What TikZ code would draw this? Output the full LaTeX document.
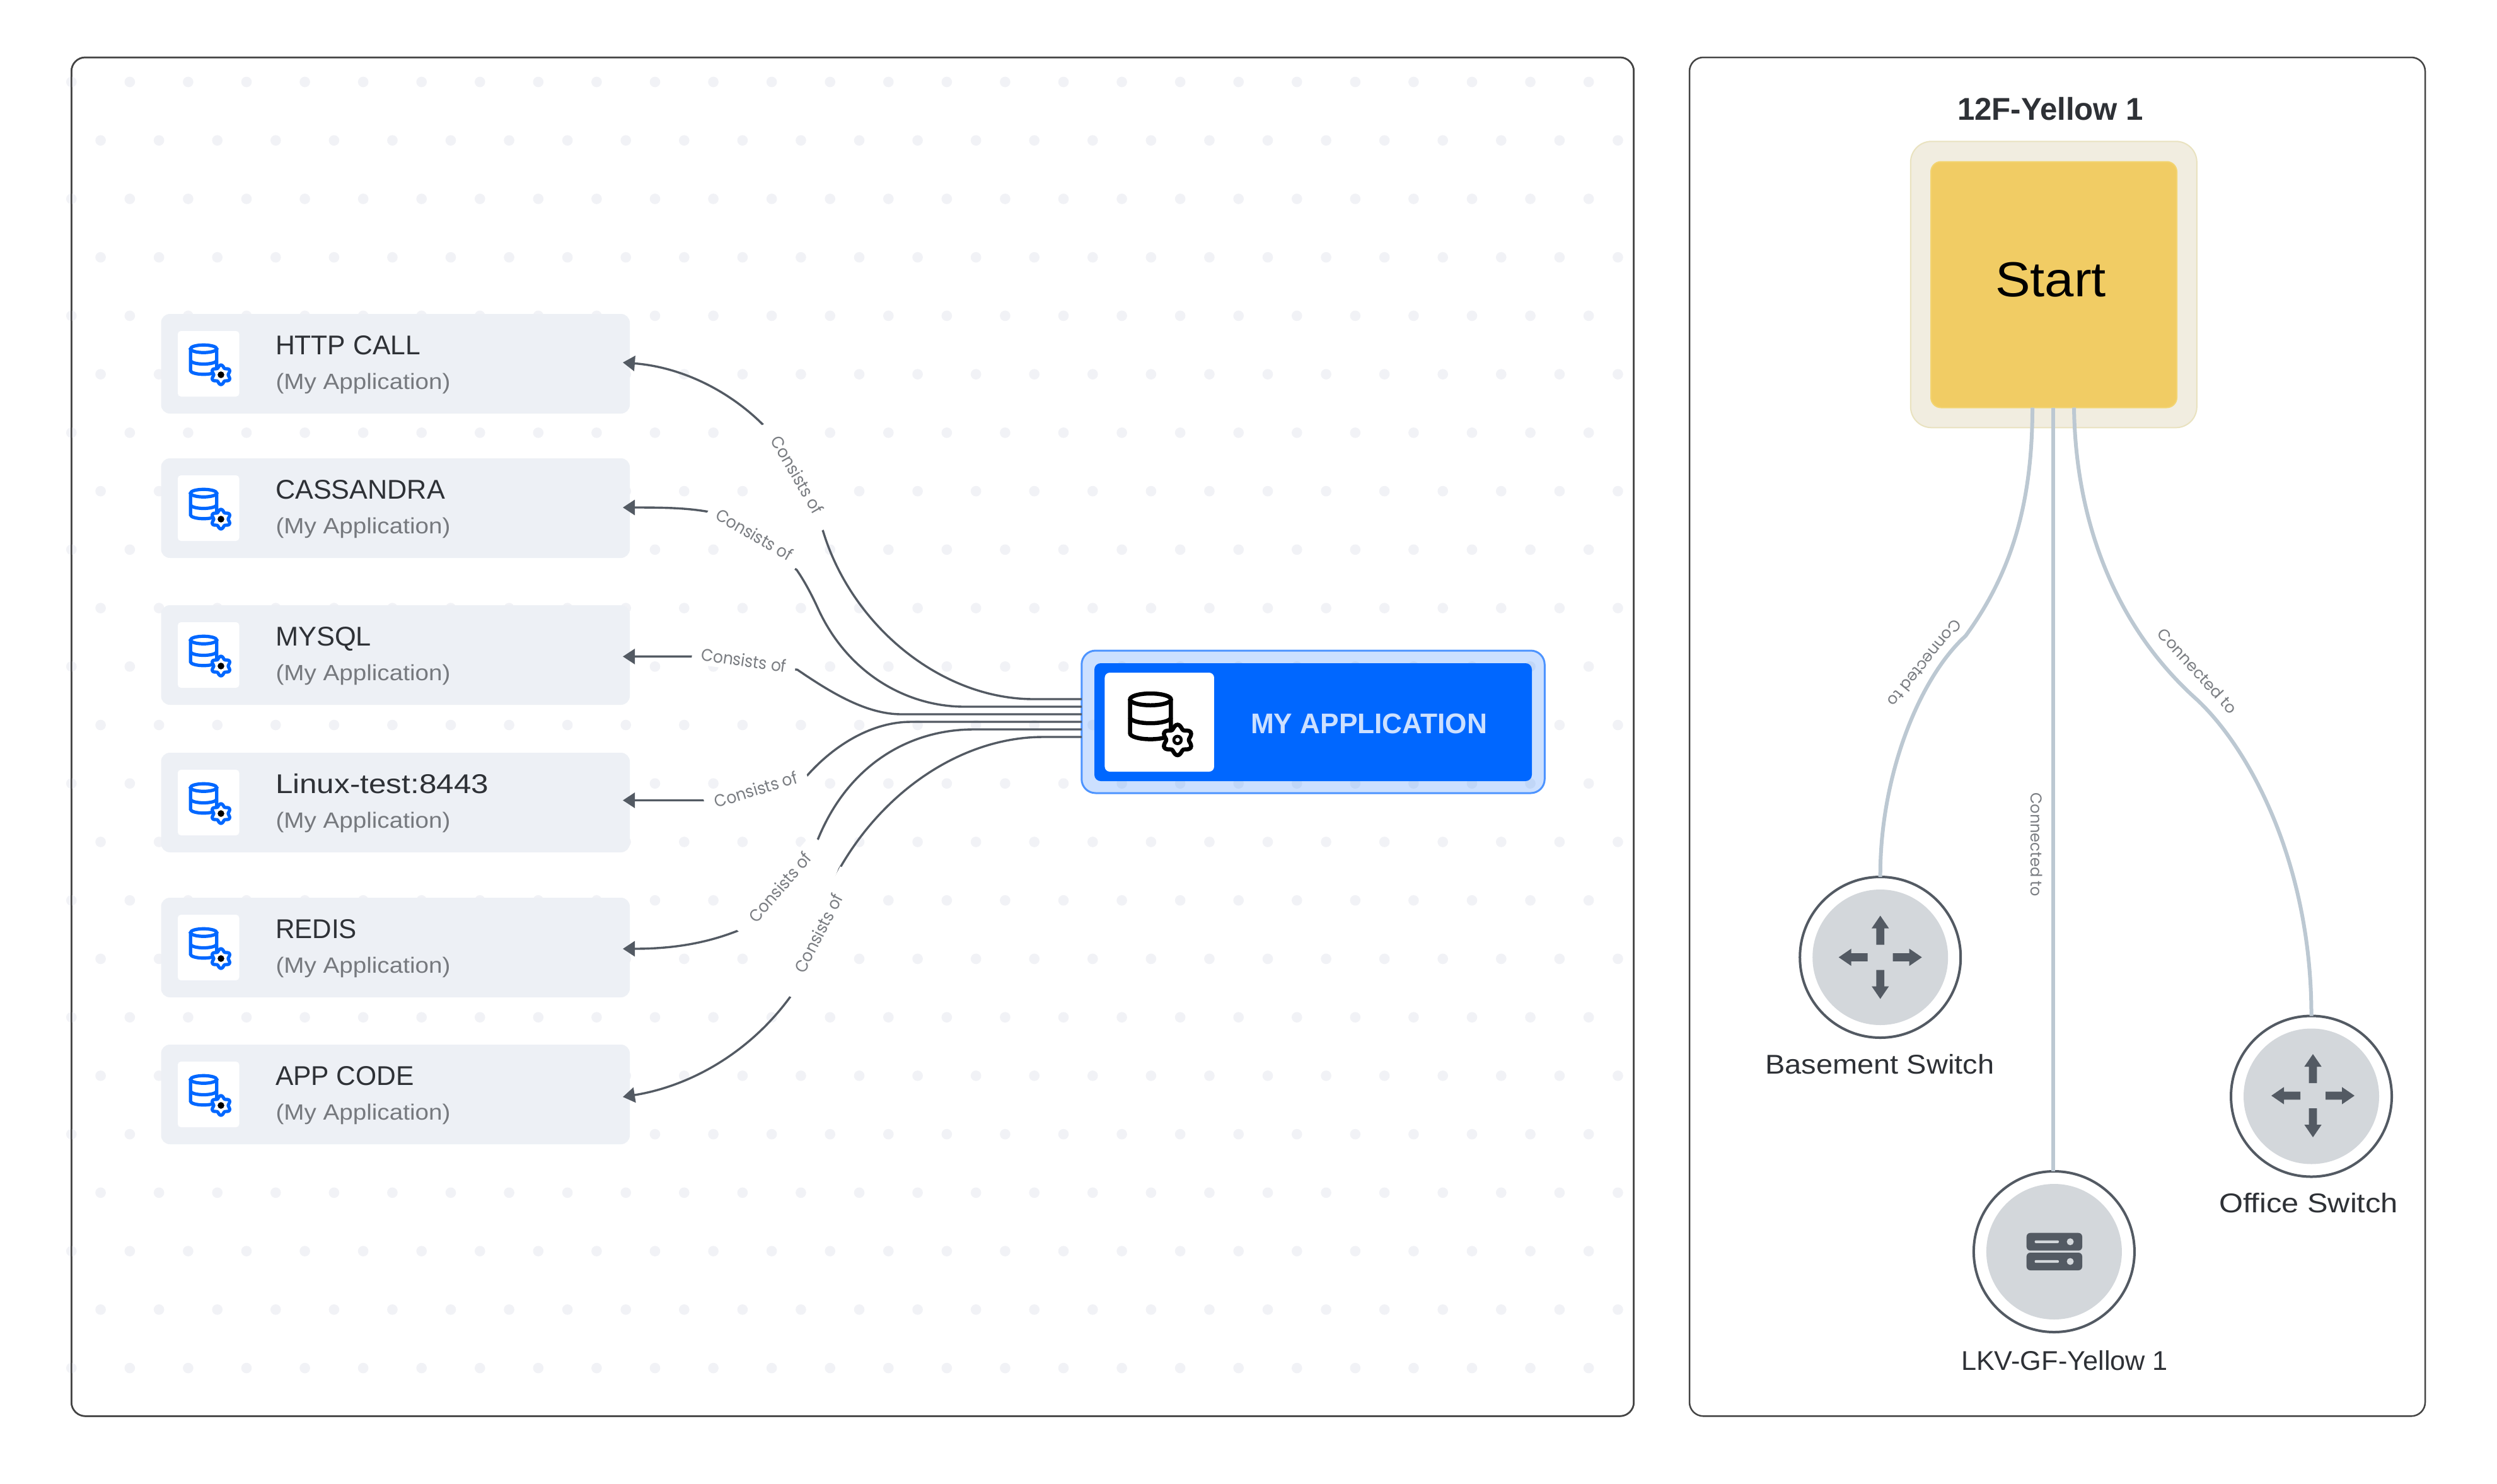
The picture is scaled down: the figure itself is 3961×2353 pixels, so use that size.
\documentclass[tikz,border=0pt]{standalone}
\usepackage{fontspec}
\usepackage{graphicx}
\setmainfont{Liberation Sans}
\newfontfamily\lblfont{Poppins}
\usetikzlibrary{arrows.meta}
\definecolor{paneledge}{HTML}{444444}
\definecolor{dotc}{HTML}{F1F2F6}
\definecolor{cardfill}{HTML}{EDF0F5}
\definecolor{iconblue}{HTML}{0067FF}
\definecolor{wire}{HTML}{535A63}
\definecolor{halo}{HTML}{CCE0FF}
\definecolor{haloedge}{HTML}{4D94FF}
\definecolor{titletext}{HTML}{2E3136}
\definecolor{subtext}{HTML}{76797E}
\definecolor{lbltext}{HTML}{7A7D82}
\definecolor{creamfill}{HTML}{F1EDE0}
\definecolor{creamedge}{HTML}{E9E2BF}
\definecolor{startfill}{HTML}{F1CC64}
\definecolor{startedge}{HTML}{F3D470}
\definecolor{linkc}{HTML}{BCC8D2}
\definecolor{discfill}{HTML}{D3D7DB}
\newcommand\fitw[2]{\resizebox{#1pt}{\height}{#2}}
\tikzset{
  x=1pt,y=-1pt,
  every node/.style={inner sep=0pt,outer sep=0pt},
  panelbox/.style={draw=paneledge,line width=2.5pt,rounded corners=22pt,fill=white},
  card/.style={fill=cardfill,rounded corners=14pt,minimum width=743.5pt,minimum height=158pt},
  tile/.style={fill=white,rounded corners=5pt,minimum width=97.5pt,minimum height=104pt},
  cardtitle/.style={anchor=base west,text=titletext,font=\fontsize{43}{50}\selectfont},
  cardsub/.style={anchor=base west,text=subtext,font=\fontsize{35}{42}\selectfont},
  conn/.style={draw=wire,line width=3.4pt,-{Triangle[length=19pt,width=24pt]}},
  link/.style={draw=linkc,line width=6pt},
  edgelbl/.style={fill=white,text=lbltext,font=\lblfont\fontsize{27}{32}\selectfont,minimum height=34pt},
  linklbl/.style={text=lbltext,font=\lblfont\fontsize{25}{30}\selectfont},
  ringnode/.style={circle,draw=wire,line width=4pt,fill=white,minimum size=255pt},
  discnode/.style={circle,fill=discfill,minimum size=215pt},
  devname/.style={anchor=base,text=titletext,font=\fontsize{43}{50}\selectfont},
  pics/dbicon/.style 2 args={code={
    \draw[#1] (0,-17.25) ellipse [x radius=20.8pt,y radius=6pt];
    \draw[#1] (-20.8,-17.25) -- (-20.8,17.25) arc[start angle=180,end angle=360,x radius=20.8pt,y radius=6pt] -- (20.8,-17.25);
    \draw[#1] (-20.8,1) arc[start angle=180,end angle=360,x radius=20.8pt,y radius=6pt];
    \draw[#1,fill=white] plot[domain=0:360,samples=73,smooth] ({27.5+(13.5-2*cos(6*\x))*cos(\x)},{24+(13.5-2*cos(6*\x))*sin(\x)}) -- cycle;
    \fill[black] (27.5,24) circle [radius=5.3pt];
    \fill[#2] (27.5,24) circle [radius=2.2pt];
  }},
  pics/switcharrows/.style={code={
    \foreach \a in {0,90,180,270}
      \fill[wire,rotate=\a] (20,-6.3) -- (46,-6.3) -- (46,-13.7) -- (66,0) -- (46,13.7) -- (46,6.3) -- (20,6.3) -- cycle;
  }},
}
\newcommand\cardnode[4]{%
  \node[card] (#1) at (627.25,{#2+79}) {};
  \node[tile] (#1tile) at (330.75,{#2+79}) {};
  \pic[line width=5.2pt] at (323,{#2+72.5}) {dbicon={iconblue}{black}};
  \node[cardtitle] (#1title) at (437,{#2+64.5}) {\fitw{#4}{#3}};
  \node[cardsub] (#1sub) at (437.5,{#2+119.7}) {\fitw{277}{(My Application)}};
}
\begin{document}
\begin{tikzpicture}
\useasboundingbox (0,0) rectangle (3961,2353);
\fill[white] (0,0) rectangle (3961,2353);
% panels
\node[panelbox,minimum width=2478.4pt,minimum height=2155.3pt] (leftpanel) at (1352.5,1168.65) {};
\node[panelbox,minimum width=1167pt,minimum height=2155.3pt] (rightpanel) at (3263.5,1168.65) {};
% dot grid
\foreach \k in {0,2,...,22}
  \foreach \m in {0,...,26}
    \fill[dotc] ({113.3+92.57*\m},{130+92.73*\k}) circle [radius=8.3pt];
\foreach \k in {1,3,...,21}
  \foreach \m in {0,...,26}
    \fill[dotc] ({159.6+92.57*\m},{130+92.73*\k}) circle [radius=8.3pt];
\draw[paneledge,line width=2.5pt,rounded corners=22pt] (113.3,91) rectangle (2591.7,2246.3);
% cards
\cardnode{http}{498}{HTTP CALL}{230}
\cardnode{cass}{727}{CASSANDRA}{269}
\cardnode{mysql}{960}{MYSQL}{152}
\cardnode{linux}{1194}{Linux-test:8443}{338}
\cardnode{redis}{1424}{REDIS}{129}
\cardnode{appcode}{1657}{APP CODE}{220}
% application node
\node[fill=iconblue,fill opacity=.2,draw=haloedge,draw opacity=1,line width=3pt,rounded corners=22pt,minimum width=734.5pt,minimum height=226pt] (app) at (2083,1145) {};
\node[fill=iconblue,rounded corners=10pt,minimum width=694pt,minimum height=187pt] (appinner) at (2083,1145.5) {};
\node[fill=white,rounded corners=8pt,minimum width=173.5pt,minimum height=157pt] (apptile) at (1839.2,1145.5) {};
\pic[scale=1.56,line width=6.5pt] at (1825,1136.3) {dbicon={black}{white}};
\node[anchor=base west,text=halo,font=\bfseries\fontsize{45}{52}\selectfont] (apptext) at (1984,1163.5) {\fitw{375}{MY APPLICATION}};
% connectors
\coordinate (m1) at (1261,759);
\coordinate (m2) at (1193.6,858);
\coordinate (m3) at (1181,1052);
\coordinate (m4) at (1197,1250);
\coordinate (m5) at (1233,1404);
\coordinate (m6) at (1292,1481);
\draw[conn] ([shift={(0,-36)}]app.west) -- (1640,1109) .. controls (1490,1109) and (1350,990) .. (1305.6,842.4) -- (m1) -- (1222,686) .. controls (1170,628) and (1090,583) .. ([shift={(-11,-2)}]http.east);
\draw[conn] ([shift={(0,-24)}]app.west) -- (1530,1121) .. controls (1440,1121) and (1345,1070) .. (1297,964) .. controls (1287,942) and (1275,920) .. (1263.8,904) -- (m2) -- (1130,813) .. controls (1095,806) and (1060,805) .. ([shift={(-11,-1)}]cass.east);
\draw[conn] ([shift={(0,-12)}]app.west) -- (1430,1133) .. controls (1375,1133) and (1320,1100) .. (1264.8,1062.3) -- (m3) -- (1110,1041.4) -- ([shift={(-11,2.4)}]mysql.east);
\draw[conn] (app.west) -- (1445,1145) .. controls (1385,1145) and (1325,1180) .. (1280.6,1230) -- (m4) -- (1125,1269.5) -- ([shift={(-11,-3.5)}]linux.east);
\draw[conn] ([shift={(0,12)}]app.west) -- (1545,1157) .. controls (1440,1157) and (1345,1215) .. (1297.7,1330.7) -- (m5) -- (1175,1474.5) .. controls (1120,1497) and (1065,1505) .. ([shift={(-11,2)}]redis.east);
\draw[conn] ([shift={(0,24)}]app.west) -- (1655,1169) .. controls (1530,1169) and (1405,1250) .. (1331.7,1378) -- (m6) -- (1258,1575) .. controls (1195,1665) and (1100,1722) .. ([shift={(-11,4)}]appcode.east);
% connector labels
\node[edgelbl,minimum width=192pt,rotate=-60] (l1) at (1265,753) {\fitw{138}{Consists of}};
\node[edgelbl,minimum width=165pt,rotate=-30] (l2) at (1197,848) {\fitw{136}{Consists of}};
\node[edgelbl,minimum width=165pt,rotate=-8] (l3) at (1180,1047) {\fitw{136}{Consists of}};
\node[edgelbl,minimum width=168pt,rotate=17] (l4) at (1199,1252) {\fitw{136}{Consists of}};
\node[edgelbl,minimum width=192pt,rotate=49] (l5) at (1237,1407) {\fitw{136}{Consists of}};
\node[edgelbl,minimum width=220pt,rotate=63] (l6) at (1298,1480) {\fitw{136}{Consists of}};
% right panel
\node[anchor=base,text=titletext,font=\bfseries\fontsize{50}{58}\selectfont] (floorname) at (3252.5,190.7) {\fitw{295}{12F-Yellow 1}};
\node[fill=creamfill,draw=creamedge,line width=2pt,rounded corners=33pt,minimum width=454pt,minimum height=454pt] (outer) at (3257.8,451.3) {};
\node[fill=startfill,draw=startedge,line width=2pt,rounded corners=16pt,minimum width=390pt,minimum height=390pt] (start) at (3258,451.5) {};
\node[anchor=base,text=black,font=\fontsize{78}{90}\selectfont] (starttext) at (3253,470) {\fitw{176}{Start}};
\node[ringnode] (basement) at (2982.7,1518.5) {};
\node[ringnode] (lkv) at (3258.4,1985.5) {};
\node[ringnode] (office) at (3666.5,1739) {};
\draw[link] ([xshift=-34pt]start.south) .. controls (3224,800) and (3190,910) .. (3118,1008.7) .. controls (3045,1075) and (2982,1230) .. (basement.north);
\draw[link] ([xshift=-1pt]start.south) -- (lkv.north -| 3257,0);
\draw[link] ([xshift=32pt]start.south) .. controls (3292,810) and (3345,985) .. (3486,1110.7) .. controls (3575,1195) and (3667,1380) .. (office.north);
\node[linklbl,rotate=231] (t1) at (3053.5,1052) {\fitw{170}{Connected to}};
\node[linklbl,rotate=-90] (t2) at (3230.7,1339.5) {\fitw{165}{Connected to}};
\node[linklbl,rotate=-47.5] (t3) at (3486,1064) {\fitw{173}{Connected to}};
\node[discnode] (basementdisc) at (basement) {};
\node[discnode] (lkvdisc) at (lkv) {};
\node[discnode] (officedisc) at (office) {};
\pic at (basement) {switcharrows};
\pic at (3669,1738) {switcharrows};
% server glyph
\fill[wire,rounded corners=6pt] (3214.7,1955.7) rectangle (3303,1983.7);
\fill[wire,rounded corners=6pt] (3214.7,1987) rectangle (3303,2015);
\foreach \y in {1969.7,2001}{
  \fill[discfill,rounded corners=2pt] (3227.5,{\y-2.2}) rectangle (3266,{\y+2.2});
  \fill[discfill] (3284,\y) circle [radius=5.5pt];
}
\node[devname] (basementname) at (2981.7,1703) {\fitw{363}{Basement Switch}};
\node[devname] (lkvname) at (3275,2173.7) {\fitw{328}{LKV-GF-Yellow 1}};
\node[devname] (officename) at (3662,1923) {\fitw{284}{Office Switch}};
\end{tikzpicture}
\end{document}
